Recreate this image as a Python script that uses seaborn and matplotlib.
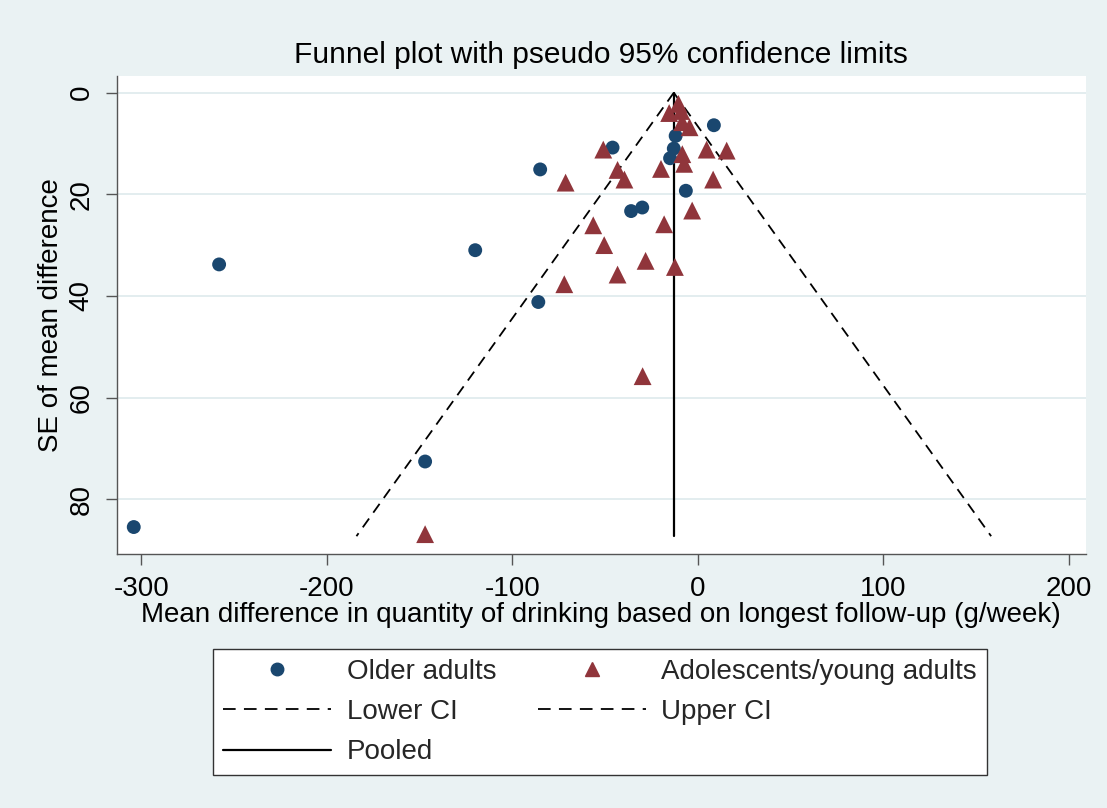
import matplotlib
matplotlib.use("Agg")
import matplotlib.pyplot as plt
import seaborn as sns
import pandas as pd
from matplotlib.lines import Line2D

# ---- data ----
older_md = [-304, -258, -120, -85, -86, -147, -46, 8.6, -12, -13, -15, -6.5, -36, -30]
older_se = [85.5, 33.8, 31.0, 15.1, 41.2, 72.6, 10.8, 6.4, 8.5, 11.0, 12.9, 19.3, 23.3, 22.6]

young_md = [-10.5, -15.5, -9.0, -8.5, -4.5, -51, 4.7, 15.5, -8.4, -7.4, -43.3, -39.6,
            -19.9, -71.3, 8.2, -3.1, -56.4, -18.2, -50.5, -28.2, -12.4, -43.3, -72,
            -29.8, -147]
young_se = [2.2, 4.0, 3.6, 5.8, 6.8, 11.2, 11.2, 11.4, 12.1, 14.0, 15.2, 17.1,
            15.0, 17.7, 17.1, 23.2, 26.1, 25.9, 30.0, 33.1, 34.3, 35.8, 37.7,
            55.8, 86.9]

lower_md = [-13.0, -184.0]
upper_md = [-13.0, 158.0]
ci_se = [0.0, 87.3]
pooled_md = [-13.0, -13.0]

xticks = [-300, -200, -100, 0, 100, 200]
xticklabels = ["-300", "-200", "-100", "0", "100", "200"]
yticks = [0, 20, 40, 60, 80]
yticklabels = ["0", "20", "40", "60", "80"]

title = "Funnel plot with pseudo 95% confidence limits"
xlabel = "Mean difference in quantity of drinking based on longest follow-up (g/week)"
ylabel = "SE of mean difference"

BLUE = "#1A476F"
RED = "#90353B"
BG = "#EAF2F3"
GRID = "#E1ECEE"
DASH = (0, (6, 4))
LEG_DASH = (0, (7, 4.6))

sns.set_theme(style="white")
plt.rcParams["font.family"] = ["Liberation Sans", "DejaVu Sans"]
plt.rcParams["axes.unicode_minus"] = False

fig = plt.figure(figsize=(11.07, 8.08), dpi=100, facecolor=BG)
ax = fig.add_axes([0.1054, 0.3144, 0.8756, 0.5916])
ax.set_facecolor("white")

df_old = pd.DataFrame({"md": older_md, "se": older_se})
df_young = pd.DataFrame({"md": young_md, "se": young_se})
df_low = pd.DataFrame({"md": lower_md, "se": ci_se})
df_up = pd.DataFrame({"md": upper_md, "se": ci_se})
df_pool = pd.DataFrame({"md": pooled_md, "se": ci_se})

sns.scatterplot(data=df_old, x="md", y="se", ax=ax, color=BLUE, marker="o",
                s=100, edgecolor="none", zorder=4)
sns.scatterplot(data=df_young, x="md", y="se", ax=ax, color=RED, marker="^",
                s=165, edgecolor="none", zorder=4)
sns.lineplot(data=df_low, x="md", y="se", ax=ax, color="black", lw=1.3,
             linestyle=DASH, sort=False, estimator=None, zorder=3)
sns.lineplot(data=df_up, x="md", y="se", ax=ax, color="black", lw=1.3,
             linestyle=DASH, sort=False, estimator=None, zorder=3)
sns.lineplot(data=df_pool, x="md", y="se", ax=ax, color="black", lw=1.6,
             sort=False, estimator=None, orient="y", zorder=3)

ax.set_xlim(-313.2, 209.1)
ax.set_ylim(90.8, -3.3)
ax.set_xticks(xticks)
ax.set_xticklabels(xticklabels)
ax.set_yticks(yticks)
ax.set_yticklabels(yticklabels, rotation=90, va="center")

ax.grid(axis="y", color=GRID, lw=1.3)
ax.grid(axis="x", visible=False)
ax.set_axisbelow(True)

for s in ["top", "right"]:
    ax.spines[s].set_visible(False)
for s in ["left", "bottom"]:
    ax.spines[s].set_color("#555555")
    ax.spines[s].set_linewidth(1.0)

ax.tick_params(axis="both", which="major", labelsize=20, length=8, width=1.0,
               color="#555555", direction="out", labelcolor="black")
ax.tick_params(axis="x", pad=8, bottom=True)
ax.tick_params(axis="y", pad=8, left=True)

ax.set_xlabel(xlabel, fontsize=20, labelpad=0, color="black")
ax.set_ylabel(ylabel, fontsize=20, labelpad=3, color="black")
ax.set_title(title, fontsize=21.5, pad=9, color="black")

handles = [
    Line2D([], [], marker="o", color=BLUE, ls="none", markersize=9),
    Line2D([], [], color="black", lw=1.3, ls=LEG_DASH),
    Line2D([], [], color="black", lw=1.6),
    Line2D([], [], marker="^", color=RED, ls="none", markersize=10),
    Line2D([], [], color="black", lw=1.3, ls=LEG_DASH),
]
labels = ["Older adults", "Lower CI", "Pooled", "Adolescents/young adults", "Upper CI"]
leg = fig.legend(handles, labels, ncol=2, loc="upper center",
                 bbox_to_anchor=(0.542, 0.197), fontsize=20, frameon=True,
                 fancybox=False, edgecolor="#333333", facecolor="white",
                 framealpha=1, handlelength=3.9, handletextpad=0.55,
                 columnspacing=1.5, labelspacing=0.52, borderpad=0.35,
                 borderaxespad=0)
leg.get_frame().set_linewidth(1.0)

fig.savefig("out.png", dpi=100, facecolor=BG)
